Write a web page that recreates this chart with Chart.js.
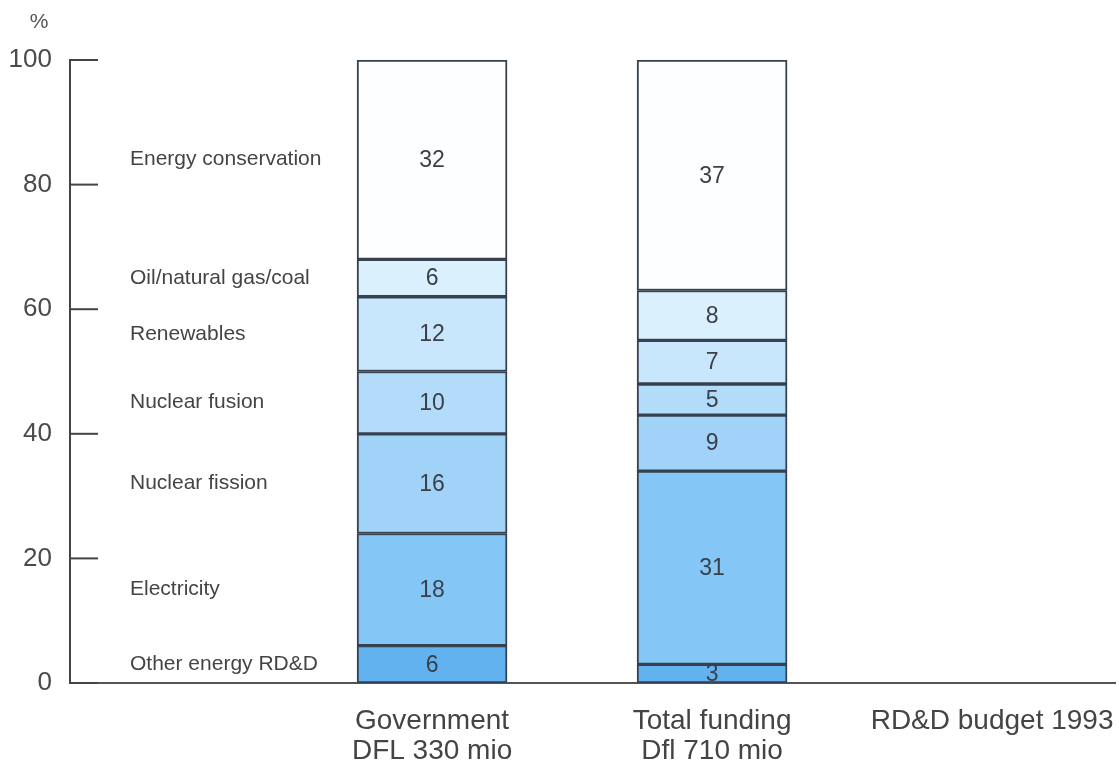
<!DOCTYPE html>
<html>
<head>
<meta charset="utf-8">
<script src="https://cdn.jsdelivr.net/npm/chart.js@4"></script>
<style>
body { margin: 0; background: #fff; }
#wrap { width: 1119px; height: 775px; }
</style>
</head>
<body>
<div id="wrap"><canvas id="chart"></canvas></div>
<script>
// categories along the bottom (third one has no bar)
var categories = [['Government', 'DFL 330 mio'], ['Total funding', 'Dfl 710 mio'], 'RD&D budget 1993'];
// stacked from the bottom up
var sectors = ['Other energy RD&D', 'Electricity', 'Nuclear fission', 'Nuclear fusion', 'Renewables', 'Oil/natural gas/coal', 'Energy conservation'];
var government = [6, 18, 16, 10, 12, 6, 32];
var totalFunding = [3, 31, 9, 5, 7, 8, 37];
var yTicks = [0, 20, 40, 60, 80, 100];

var colours = ['#62b2ef', '#84c6f5', '#a1d3f8', '#b3dcfa', '#c9e7fc', '#dbf0fd', '#fcfeff'];
var FONT = '"Liberation Sans", Arial, sans-serif';

var datasets = sectors.map(function (name, i) {
    return {
        label: name,
        data: [{x: 1, y: government[i]}, {x: 2, y: totalFunding[i]}],
        backgroundColor: colours[i],
        borderColor: '#36404f',
        borderWidth: 2,
        borderSkipped: false,
        barThickness: 150
    };
});

var annotate = {
    id: 'annotate',
    beforeDatasetsDraw: function (chart) {
        var ctx = chart.ctx;
        var y = chart.scales.y;
        ctx.save();
        // sector names next to the government bar
        ctx.font = '21px ' + FONT;
        ctx.fillStyle = '#444';
        ctx.textBaseline = 'middle';
        ctx.textAlign = 'left';
        sectors.forEach(function (name, i) {
            var bar = chart.getDatasetMeta(i).data[0];
            ctx.fillText(name, chart.chartArea.left + 60, (bar.y + bar.base) / 2);
        });
        // tick marks pointing into the plot
        ctx.strokeStyle = '#444';
        ctx.lineWidth = 2;
        yTicks.forEach(function (t) {
            var py = y.getPixelForValue(t);
            ctx.beginPath();
            ctx.moveTo(y.right, py);
            ctx.lineTo(y.right + 28, py);
            ctx.stroke();
        });
        // unit
        ctx.font = '21px ' + FONT;
        ctx.fillStyle = '#555';
        ctx.textAlign = 'center';
        ctx.fillText('%', y.right - 31, chart.chartArea.top - 38);
        ctx.restore();
    },
    afterDatasetsDraw: function (chart) {
        var ctx = chart.ctx;
        ctx.save();
        ctx.font = '23px ' + FONT;
        ctx.fillStyle = '#3a3f48';
        ctx.textAlign = 'center';
        ctx.textBaseline = 'middle';
        chart.data.datasets.forEach(function (ds, i) {
            chart.getDatasetMeta(i).data.forEach(function (bar, j) {
                ctx.fillText(ds.data[j].y, bar.x, (bar.y + bar.base) / 2 + 1);
            });
        });
        ctx.restore();
    }
};

new Chart(document.getElementById('chart'), {
    type: 'bar',
    data: { datasets: datasets },
    plugins: [annotate],
    options: {
        responsive: true,
        maintainAspectRatio: false,
        animation: false,
        layout: { padding: { top: 60, right: 4, left: 0, bottom: 0 } },
        plugins: { legend: { display: false }, tooltip: { enabled: false } },
        scales: {
            x: {
                type: 'linear',
                stacked: true,
                offset: false,
                min: -0.293,
                max: 3.439,
                afterBuildTicks: function (s) {
                    s.ticks = categories.map(function (c, i) { return {value: i + 1}; });
                },
                afterFit: function (s) {
                    s.height = 92;
                    s.paddingLeft = 0;
                    s.paddingRight = 0;
                },
                grid: { display: false, drawTicks: false },
                border: { display: true, color: '#555', width: 2 },
                ticks: {
                    autoSkip: false,
                    maxRotation: 0,
                    padding: 23,
                    color: '#444',
                    font: { family: FONT, size: 28, lineHeight: 1.08 },
                    callback: function (v) { return categories[v - 1]; }
                }
            },
            y: {
                stacked: true,
                min: 0,
                max: 100,
                afterBuildTicks: function (s) {
                    s.ticks = yTicks.map(function (t) { return {value: t}; });
                },
                afterFit: function (s) { s.width = 70; },
                grid: { display: false, drawTicks: false },
                border: { display: true, color: '#444', width: 2 },
                ticks: {
                    padding: 18,
                    color: '#4a4a4a',
                    font: { family: FONT, size: 26 }
                }
            }
        }
    }
});
</script>
</body>
</html>
